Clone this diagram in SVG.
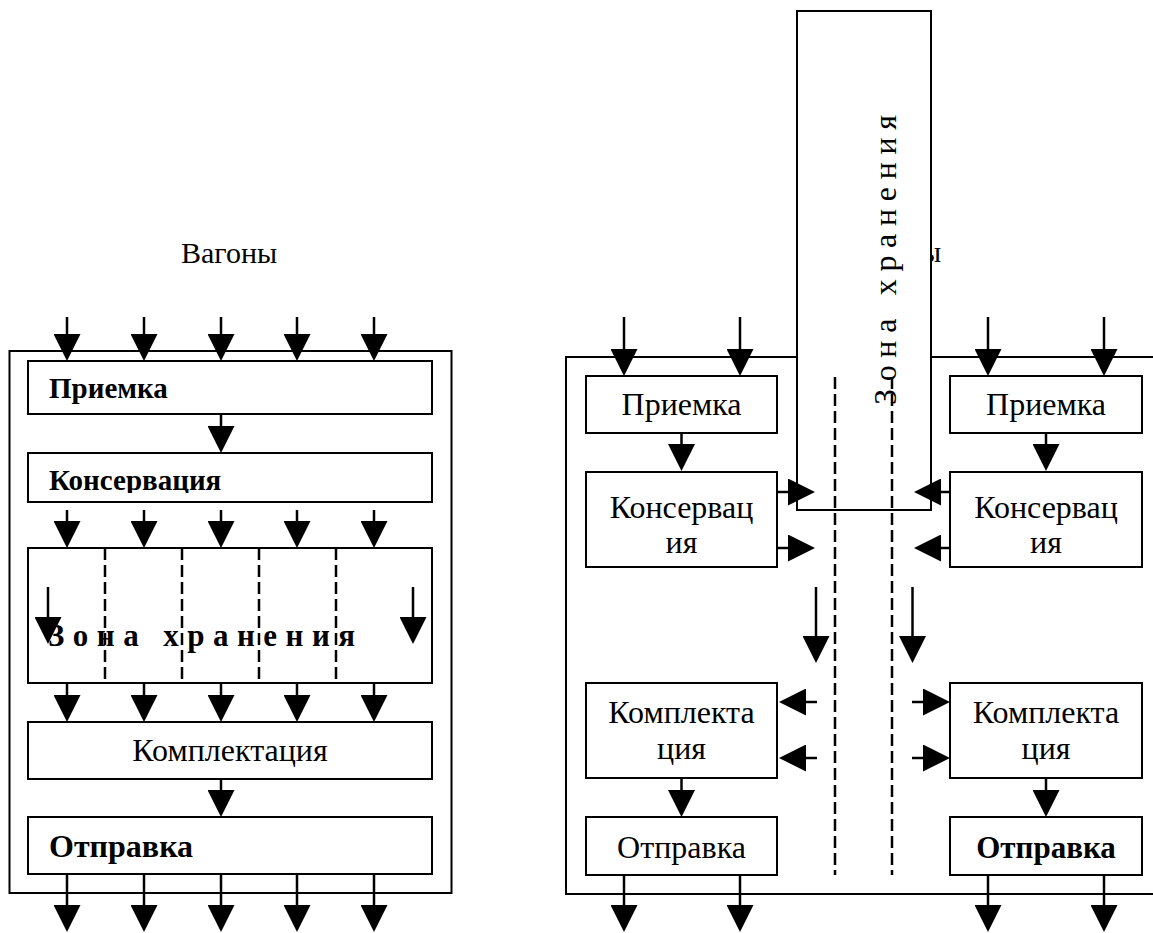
<svg xmlns="http://www.w3.org/2000/svg" width="1153" height="933" viewBox="0 0 1153 933">
  <defs>
    <style>
      .box { fill: #fff; stroke: #000; stroke-width: 2; }
      .frame { fill: none; stroke: #000; stroke-width: 2; }
      .txt { font-family: "Liberation Serif", "Times New Roman", serif; font-size: 32px; fill: #000; }
      .s29 { font-size: 29px; }
      .s30 { font-size: 30px; }
      .s31 { font-size: 31px; }
      .b { font-weight: bold; }
      .mid { text-anchor: middle; }
      .dash { stroke: #000; stroke-width: 2.5; stroke-dasharray: 12 5; fill: none; }
      .arr { stroke: #000; stroke-width: 2.5; fill: none; marker-end: url(#ah); }
    </style>
    <marker id="ah" viewBox="0 0 27 27" refX="17" refY="13.5" markerWidth="27" markerHeight="27" markerUnits="userSpaceOnUse" orient="auto">
      <path d="M0,0L27,13.5L0,27z" fill="#000"/>
    </marker>
    <clipPath id="clipKons">
      <rect x="28" y="453" width="404" height="40"/>
    </clipPath>
  </defs>

  <rect width="1153" height="933" fill="#fff"/>

  <!-- Left scheme: sequential flow -->
  <g id="left-title">
    <text class="txt s30" x="181" y="263">Вагоны</text>
  </g>
  <g id="left-frame">
    <rect class="frame" x="9.5" y="351" width="442" height="542"/>
  </g>
  <g id="left-priemka">
    <rect class="box" x="28" y="361" width="404" height="53"/>
    <text class="txt b s29" x="49" y="398">Приемка</text>
  </g>
  <g id="left-konservaciya">
    <rect class="box" x="28" y="453" width="404" height="49"/>
    <text class="txt b s29" x="49" y="490" clip-path="url(#clipKons)">Консервация</text>
  </g>
  <g id="left-zone">
    <rect class="box" x="28" y="548" width="404" height="135"/>
    <text class="txt b s31" x="48" y="646" textLength="307" lengthAdjust="spacing" xml:space="preserve">З о н а   х р а н е н и я</text>
    <line class="dash" x1="105" y1="548" x2="105" y2="683"/>
    <line class="dash" x1="182" y1="548" x2="182" y2="683"/>
    <line class="dash" x1="259" y1="548" x2="259" y2="683"/>
    <line class="dash" x1="336" y1="548" x2="336" y2="683"/>
  </g>
  <g id="left-komplektaciya">
    <rect class="box" x="28" y="722" width="404" height="57"/>
    <text class="txt mid" x="230" y="761">Комплектация</text>
  </g>
  <g id="left-otpravka">
    <rect class="box" x="28" y="817" width="404" height="57"/>
    <text class="txt b" x="49" y="857">Отправка</text>
  </g>

  <!-- Right scheme: two lines around a central storage zone -->
  <g id="right-title">
    <text class="txt s30" x="845" y="262">Вагоны</text>
  </g>
  <g id="right-frame">
    <rect class="frame" x="566" y="357" width="620" height="537"/>
  </g>
  <g id="right-zone">
    <rect class="box" x="797" y="11" width="134" height="499"/>
    <text class="txt" transform="translate(896,405) rotate(-90)" textLength="290" lengthAdjust="spacing" xml:space="preserve">З о н а   х р а н е н и я</text>
    <line class="dash" x1="835" y1="377" x2="835" y2="875"/>
    <line class="dash" x1="892" y1="377" x2="892" y2="875"/>
  </g>
  <g id="right-priemka-1">
    <rect class="box" x="586" y="376" width="191" height="57"/>
    <text class="txt mid" x="681.5" y="415">Приемка</text>
  </g>
  <g id="right-priemka-2">
    <rect class="box" x="950" y="376" width="192" height="57"/>
    <text class="txt mid" x="1046" y="415">Приемка</text>
  </g>
  <g id="right-konservaciya-1">
    <rect class="box" x="586" y="472" width="191" height="95"/>
    <text class="txt mid" x="681.5" y="518">Консервац</text>
    <text class="txt mid" x="681.5" y="553">ия</text>
  </g>
  <g id="right-konservaciya-2">
    <rect class="box" x="950" y="472" width="192" height="95"/>
    <text class="txt mid" x="1046" y="518">Консервац</text>
    <text class="txt mid" x="1046" y="553">ия</text>
  </g>
  <g id="right-komplektaciya-1">
    <rect class="box" x="586" y="683" width="191" height="95"/>
    <text class="txt mid" x="681.5" y="723">Комплекта</text>
    <text class="txt mid" x="681.5" y="759">ция</text>
  </g>
  <g id="right-komplektaciya-2">
    <rect class="box" x="950" y="683" width="192" height="95"/>
    <text class="txt mid" x="1046" y="723">Комплекта</text>
    <text class="txt mid" x="1046" y="759">ция</text>
  </g>
  <g id="right-otpravka-1">
    <rect class="box" x="586" y="817" width="191" height="58"/>
    <text class="txt mid" x="681.5" y="858">Отправка</text>
  </g>
  <g id="right-otpravka-2">
    <rect class="box" x="950" y="817" width="192" height="58"/>
    <text class="txt b s31 mid" x="1046" y="858">Отправка</text>
  </g>

  <!-- Connectors -->
  <g id="connectors">
    <!-- left: incoming wagons -->
    <line class="arr" x1="67" y1="317" x2="67" y2="351"/>
    <line class="arr" x1="144" y1="317" x2="144" y2="351"/>
    <line class="arr" x1="221" y1="317" x2="221" y2="351"/>
    <line class="arr" x1="297" y1="317" x2="297" y2="351"/>
    <line class="arr" x1="374" y1="317" x2="374" y2="351"/>
    <line class="arr" x1="221" y1="414" x2="221" y2="443"/>
    <!-- left: into storage -->
    <line class="arr" x1="67" y1="510" x2="67" y2="538"/>
    <line class="arr" x1="144" y1="510" x2="144" y2="538"/>
    <line class="arr" x1="221" y1="510" x2="221" y2="538"/>
    <line class="arr" x1="297" y1="510" x2="297" y2="538"/>
    <line class="arr" x1="374" y1="510" x2="374" y2="538"/>
    <line class="arr" x1="48" y1="587" x2="48" y2="634"/>
    <line class="arr" x1="413" y1="587" x2="413" y2="634"/>
    <!-- left: out of storage -->
    <line class="arr" x1="67" y1="683" x2="67" y2="712"/>
    <line class="arr" x1="144" y1="683" x2="144" y2="712"/>
    <line class="arr" x1="221" y1="683" x2="221" y2="712"/>
    <line class="arr" x1="297" y1="683" x2="297" y2="712"/>
    <line class="arr" x1="374" y1="683" x2="374" y2="712"/>
    <line class="arr" x1="221" y1="779" x2="221" y2="807"/>
    <!-- left: dispatch -->
    <line class="arr" x1="67" y1="874" x2="67" y2="922"/>
    <line class="arr" x1="144" y1="874" x2="144" y2="922"/>
    <line class="arr" x1="221" y1="874" x2="221" y2="922"/>
    <line class="arr" x1="297" y1="874" x2="297" y2="922"/>
    <line class="arr" x1="374" y1="874" x2="374" y2="922"/>

    <!-- right: incoming wagons -->
    <line class="arr" x1="624" y1="317" x2="624" y2="366"/>
    <line class="arr" x1="740" y1="317" x2="740" y2="366"/>
    <line class="arr" x1="988" y1="317" x2="988" y2="366"/>
    <line class="arr" x1="1104" y1="317" x2="1104" y2="366"/>
    <line class="arr" x1="681.5" y1="433" x2="681.5" y2="461"/>
    <line class="arr" x1="1046" y1="433" x2="1046" y2="461"/>
    <!-- right: conservation into storage -->
    <line class="arr" x1="777" y1="492" x2="805" y2="492"/>
    <line class="arr" x1="777" y1="548" x2="805" y2="548"/>
    <line class="arr" x1="950" y1="492" x2="924" y2="492"/>
    <line class="arr" x1="950" y1="548" x2="924" y2="548"/>
    <line class="arr" x1="816" y1="587" x2="816" y2="653"/>
    <line class="arr" x1="912.5" y1="587" x2="912.5" y2="653"/>
    <!-- right: storage to picking -->
    <line class="arr" x1="817" y1="702" x2="789" y2="702"/>
    <line class="arr" x1="817" y1="758" x2="789" y2="758"/>
    <line class="arr" x1="912" y1="702" x2="940" y2="702"/>
    <line class="arr" x1="912" y1="758" x2="940" y2="758"/>
    <line class="arr" x1="681.5" y1="778" x2="681.5" y2="807"/>
    <line class="arr" x1="1046" y1="778" x2="1046" y2="807"/>
    <!-- right: dispatch -->
    <line class="arr" x1="624" y1="875" x2="624" y2="922"/>
    <line class="arr" x1="740" y1="875" x2="740" y2="922"/>
    <line class="arr" x1="988" y1="875" x2="988" y2="922"/>
    <line class="arr" x1="1104" y1="875" x2="1104" y2="922"/>
  </g>
</svg>
